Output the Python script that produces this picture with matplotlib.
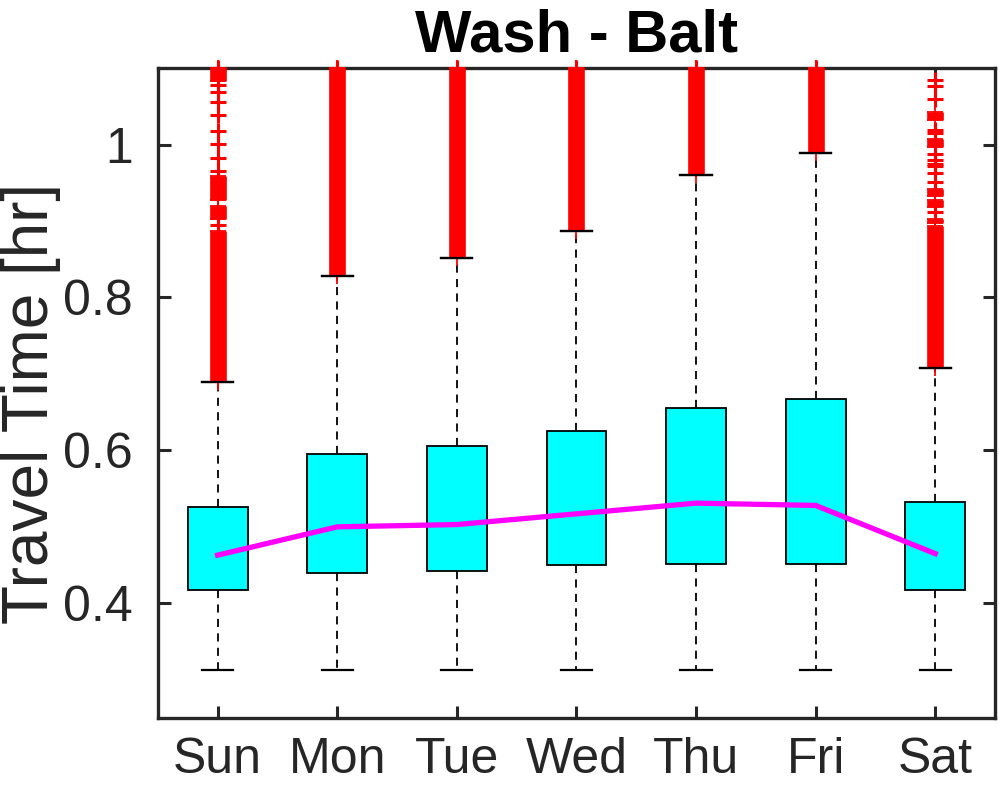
import matplotlib
matplotlib.use("Agg")
import matplotlib.pyplot as plt

plt.rcParams['font.family'] = ['Liberation Sans', 'DejaVu Sans']

days = ["Sun", "Mon", "Tue", "Wed", "Thu", "Fri", "Sat"]

# box statistics (hours)
q1 = [0.417, 0.439, 0.442, 0.450, 0.452, 0.451, 0.417]
q3 = [0.526, 0.595, 0.606, 0.625, 0.655, 0.667, 0.533]
whis_lo = [0.313, 0.313, 0.313, 0.313, 0.313, 0.313, 0.313]
whis_hi = [0.690, 0.828, 0.851, 0.887, 0.960, 0.989, 0.708]
means = [0.463, 0.500, 0.503, 0.517, 0.531, 0.528, 0.465]

# outliers so packed they merge into a solid red band (low, high)
dense_bands = [
    [(0.690, 0.887), (0.902, 0.920), (0.928, 0.959), (1.083, 1.100)],
    [(0.828, 1.100)],
    [(0.851, 1.100)],
    [(0.887, 1.100)],
    [(0.960, 1.100)],
    [(0.989, 1.100)],
    [(0.708, 0.894), (0.898, 0.903), (0.918, 0.928), (0.933, 0.942),
     (0.997, 1.007), (1.032, 1.043)],
]

# separate outlier points that can still be told apart
sparse_outliers = [
    [0.895, 0.966, 0.982, 1.001, 1.018, 1.039, 1.056, 1.069, 1.078, 1.100],
    [1.100],
    [1.100],
    [1.100],
    [1.100],
    [1.100],
    [0.912, 0.951, 0.963, 0.972, 0.975, 0.980, 0.987, 1.015, 1.019,
     1.060, 1.077, 1.084],
]

fig = plt.figure(figsize=(9.99, 7.92), dpi=100)
ax = fig.add_axes([0.158, 0.0934, 0.838, 0.8207])

positions = list(range(1, len(days) + 1))

stats = []
for i in range(len(days)):
    stats.append({
        "med": (q1[i] + q3[i]) / 2,
        "q1": q1[i],
        "q3": q3[i],
        "whislo": whis_lo[i],
        "whishi": whis_hi[i],
        "fliers": [],
    })

ax.bxp(stats, positions=positions, widths=0.5, patch_artist=True,
       showfliers=False,
       boxprops=dict(facecolor="#00FFFF", edgecolor="black", linewidth=1.3),
       whiskerprops=dict(color="black", linewidth=1.3,
                         linestyle=(0, (4.5, 3.5))),
       capprops=dict(color="black", linewidth=1.6),
       medianprops=dict(linewidth=0),
       capwidths=0.26, zorder=2)

# outliers
for i, x in enumerate(positions):
    for lo, hi in dense_bands[i]:
        ax.vlines(x, lo, hi, colors="red", linewidth=12.0, zorder=3,
                  capstyle="butt")
        ax.plot([x, x], [lo, hi], linestyle="none", marker="+",
                markersize=12, markeredgewidth=1.3, color="red",
                zorder=3, clip_on=False)
    xs = [x] * len(sparse_outliers[i])
    ax.plot(xs, sparse_outliers[i], linestyle="none", marker="+",
            markersize=12, markeredgewidth=2.2, color="red", zorder=3,
            clip_on=False)

# redraw caps over the red bands
for i, x in enumerate(positions):
    ax.plot([x - 0.13, x + 0.13], [whis_hi[i], whis_hi[i]], color="black",
            linewidth=1.6, zorder=4)

ax.plot(positions, means, color="#FF00FF", linewidth=3.8, zorder=5)

ax.set_xlim(0.5, 7.5)
ax.set_ylim(0.25, 1.1)
ax.set_xticks(positions)
ax.set_xticklabels(days)
ax.set_yticks([0.4, 0.6, 0.8, 1.0])
ax.set_yticklabels(["0.4", "0.6", "0.8", "1"])

ax.tick_params(direction="in", length=9, width=2.2, colors="#262626",
               labelsize=36, top=True, right=True)
ax.tick_params(axis="y", pad=18)
ax.tick_params(axis="x", pad=14)
for sp in ax.spines.values():
    sp.set_linewidth(2.4)
    sp.set_color("#262626")

fig.text(0.001, 0.49, "Travel Time [hr]", fontsize=46, color="#262626",
         rotation=90, ha="left", va="center")
ax.set_title("Wash - Balt", fontsize=43, fontweight="bold", pad=12)

fig.savefig("out.png", dpi=100)
